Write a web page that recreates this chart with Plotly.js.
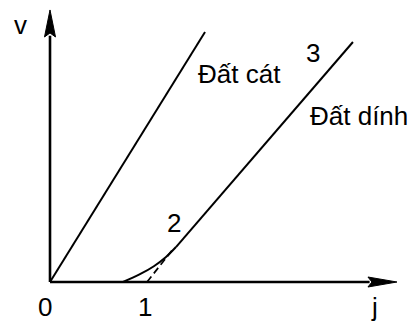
<!DOCTYPE html>
<html>
<head>
<meta charset="utf-8">
<script src="https://cdn.plot.ly/plotly-3.0.1.min.js"></script>
<style>html,body{margin:0;padding:0;background:#fff;}#chart{width:409px;height:323px;}</style>
</head>
<body>
<div id="chart"></div>
<script>
// Data (chart units: origin at 0,0)
var sandX = [0, 1.649];
var sandY = [0, 2.660];
var clayX = [0.777, 0.952, 1.105, 1.234, 1.340, 3.223];
var clayY = [0, 0.080, 0.168, 0.266, 0.372, 2.553];
var dashX = [1.032, 1.305];
var dashY = [0, 0.345];
var tickVals = [0, 1];
var tickText = ['0', '1'];
var axisXLabel = 'j';
var axisYLabel = 'v';
var sandLabel = 'Đất cát';
var clayLabel = 'Đất dính';
var pointLabels = ['2', '3'];

var xTip = 3.691, yTip = 2.894;
var font = {family: 'Liberation Sans, Arial, sans-serif', size: 26, color: '#000'};

var traces = [
  {x: [0, 3.40], y: [0, 0], mode: 'lines', line: {color: '#000', width: 2.6}},
  {x: [0, 0], y: [0, 2.62], mode: 'lines', line: {color: '#000', width: 2.6}},
  {x: sandX, y: sandY, mode: 'lines', line: {color: '#000', width: 2}},
  {x: clayX.slice(0, 5), y: clayY.slice(0, 5), mode: 'lines', line: {color: '#000', width: 2, shape: 'spline'}},
  {x: clayX.slice(4), y: clayY.slice(4), mode: 'lines', line: {color: '#000', width: 2}},
  {x: dashX, y: dashY, mode: 'lines', line: {color: '#000', width: 1.7, dash: '7px,4px'}}
];

var s = 1 / 94;
var shapes = [
  {type: 'path', xref: 'x', yref: 'y', fillcolor: '#000', line: {color: '#000', width: 1},
   path: 'M0,' + yTip + ' L' + (5.5 * s) + ',' + (yTip - 27 * s) + ' L0,' + (yTip - 23 * s) + ' L' + (-5.5 * s) + ',' + (yTip - 27 * s) + ' Z'},
  {type: 'path', xref: 'x', yref: 'y', fillcolor: '#000', line: {color: '#000', width: 1},
   path: 'M' + xTip + ',0 L' + (xTip - 29 * s) + ',' + (5 * s) + ' L' + (xTip - 25 * s) + ',0 L' + (xTip - 29 * s) + ',' + (-5 * s) + ' Z'}
];

function ann(text, x, y) {
  return {text: text, x: x, y: y, xref: 'x', yref: 'y', showarrow: false,
          xanchor: 'center', yanchor: 'middle', font: font};
}
var annotations = [
  ann(axisYLabel, -0.309, 2.733),
  ann(tickText[0], tickVals[0] - 0.053, -0.271),
  ann(tickText[1], tickVals[1] + 0.011, -0.271),
  ann(axisXLabel, 3.457, -0.271),
  ann(pointLabels[0], 1.319, 0.633),
  ann(pointLabels[1], 2.793, 2.436),
  ann(sandLabel, 2.011, 2.218),
  ann(clayLabel, 3.282, 1.761)
];

var layout = {
  width: 409, height: 323,
  margin: {l: 0, r: 0, t: 0, b: 0},
  paper_bgcolor: '#fff', plot_bgcolor: '#fff',
  showlegend: false,
  xaxis: {range: [-50 / 94, 359 / 94], visible: false, fixedrange: true},
  yaxis: {range: [-41 / 94, 282 / 94], visible: false, fixedrange: true},
  shapes: shapes,
  annotations: annotations
};
Plotly.newPlot('chart', traces, layout, {staticPlot: true, displayModeBar: false});
</script>
</body>
</html>
